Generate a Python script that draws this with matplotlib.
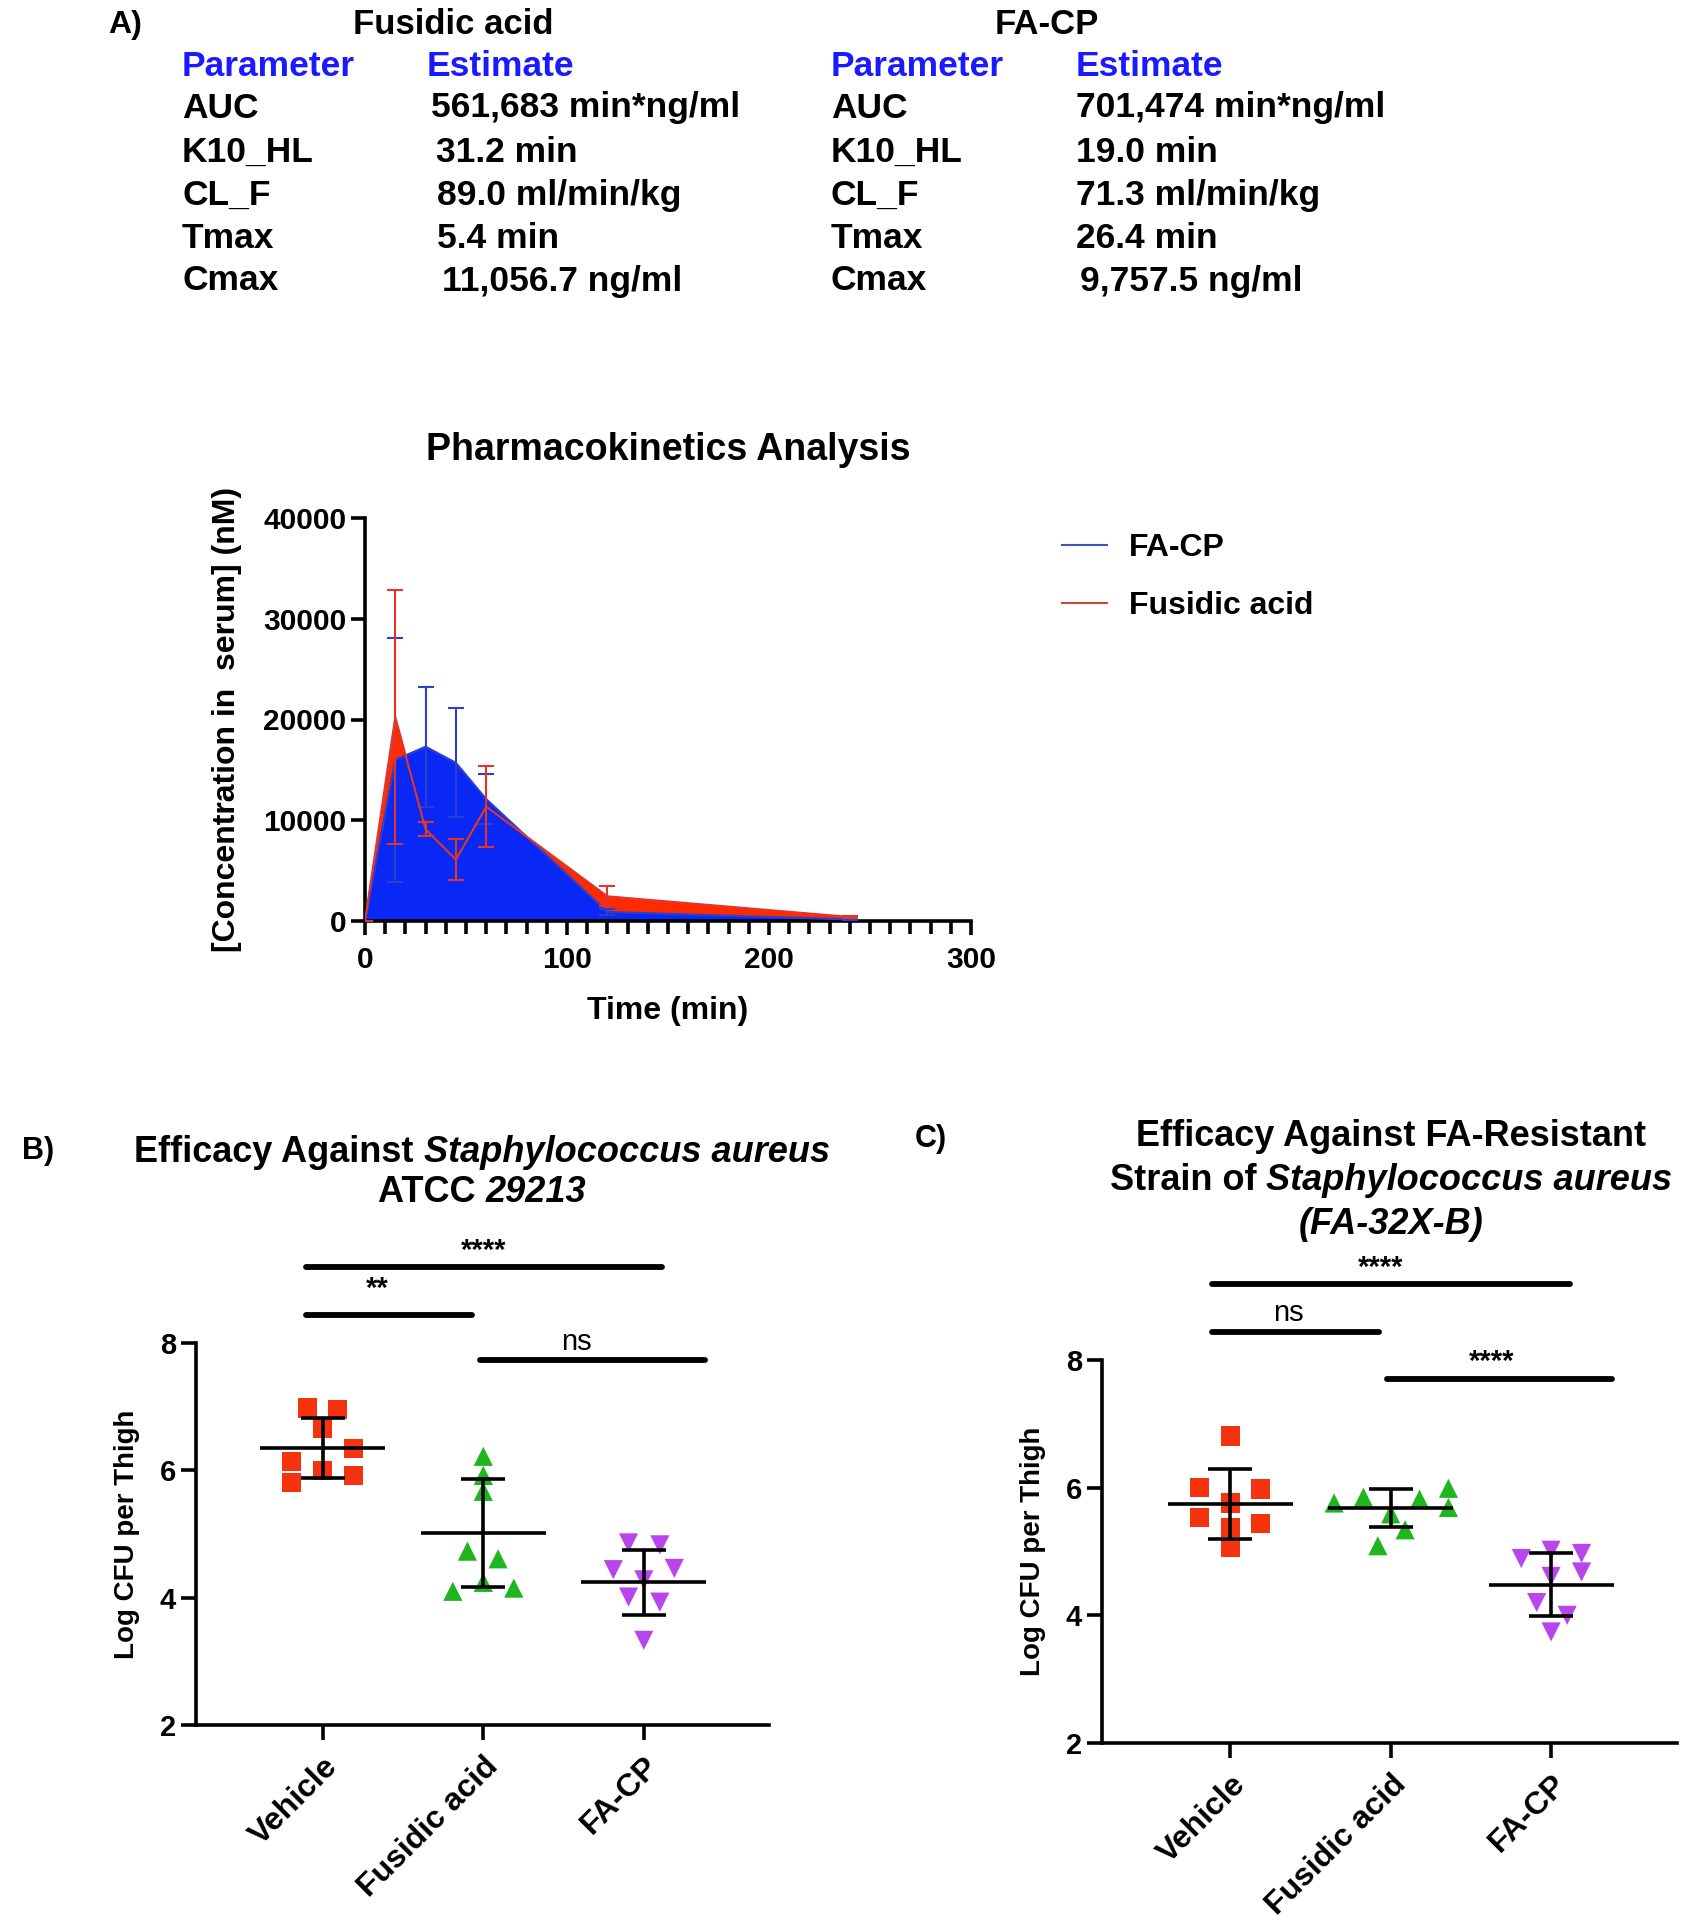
import numpy as np
import matplotlib
matplotlib.use("Agg")
import matplotlib.pyplot as plt
from matplotlib.lines import Line2D

plt.rcParams['font.family'] = ['Liberation Sans', 'DejaVu Sans']
plt.rcParams['font.weight'] = 'bold'
plt.rcParams['axes.titleweight'] = 'bold'
plt.rcParams['axes.labelweight'] = 'bold'

# ---- table values (panel A) ----
params = ["AUC", "K10_HL", "CL_F", "Tmax", "Cmax"]
fa_estimates = ["561,683 min*ng/ml", "31.2 min", "89.0 ml/min/kg", "5.4 min", "11,056.7 ng/ml"]
facp_estimates = ["701,474 min*ng/ml", "19.0 min", "71.3 ml/min/kg", "26.4 min", "9,757.5 ng/ml"]

# ---- PK curves ----
time_min = [0, 15, 30, 45, 60, 120, 240]
facp_conc = [0, 16000, 17300, 15700, 12100, 900, 150]
facp_sd = [0, 12100, 5950, 5400, 2450, 300, 50]
fa_conc = [0, 20250, 9100, 6100, 11350, 2450, 400]
fa_sd = [0, 12650, 700, 2050, 4000, 1000, 100]

# ---- thigh CFU (panel B) ----
groups = ["Vehicle", "Fusidic acid", "FA-CP"]
b_jitter = [[-0.094, 0.094, 0.0, 0.193, -0.193, 0.0, 0.193, -0.193],
            [0.0, 0.0, 0.0, -0.099, 0.092, 0.0, -0.19, 0.19],
            [-0.095, 0.1, -0.19, 0.19, 0.0, -0.095, 0.1, 0.0]]
b_values = [[6.98, 6.95, 6.66, 6.34, 6.14, 6.00, 5.92, 5.81],
            [6.22, 5.92, 5.67, 4.73, 4.61, 4.24, 4.10, 4.15],
            [4.86, 4.83, 4.44, 4.46, 4.28, 4.01, 3.93, 3.33]]
b_mean = [6.35, 5.01, 4.24]
b_sd = [0.47, 0.85, 0.51]

# ---- thigh CFU (panel C) ----
c_jitter = [[0.0, -0.19, 0.19, 0.0, -0.19, 0.19, 0.0, 0.0],
            [-0.353, -0.17, 0.18, 0.36, 0.36, 0.0, 0.09, -0.08],
            [-0.186, 0.0, 0.19, 0.19, 0.0, -0.09, 0.1, 0.0]]
c_values = [[6.81, 6.00, 5.98, 5.76, 5.53, 5.44, 5.375, 5.06],
            [5.76, 5.85, 5.82, 5.99, 5.69, 5.59, 5.34, 5.09],
            [4.89, 5.02, 4.97, 4.68, 4.61, 4.20, 4.00, 3.74]]
c_mean = [5.75, 5.68, 4.48]
c_sd = [0.55, 0.30, 0.49]

colors = ['#f5330f', '#1fb51f', '#b946ec']
markers = ['s', '^', 'v']

W, H = 1687, 1920
fig = plt.figure(figsize=(W / 100, H / 100), dpi=100)
renderer = fig.canvas.get_renderer()


def px_axes(left, top, right, bottom):
    return fig.add_axes([left / W, 1 - bottom / H, (right - left) / W, (bottom - top) / H])


def ftext(x, y, s, **kw):
    kw.setdefault('va', 'center')
    return fig.text(x / W, 1 - y / H, s, **kw)


def mixed_line(xc, y, pieces, fontsize):
    # pieces: list of (text, style); centred on xc (pixels)
    arts, widths = [], []
    for s, st in pieces:
        t = ftext(0, y, s, fontsize=fontsize, fontstyle=st)
        widths.append(t.get_window_extent(renderer).width)
        arts.append(t)
    x = xc - sum(widths) / 2
    for t, w in zip(arts, widths):
        t.set_x(x / W)
        x += w


# ===== Panel A: table =====
ftext(108, 25, "A)", fontsize=23)
ftext(453, 25, "Fusidic acid", fontsize=25, ha='center')
ftext(1047, 25, "FA-CP", fontsize=25, ha='center')
row_y = [108, 152, 195, 238, 281]
fa_x = [431, 436, 437, 437, 442]
facp_x = [1076, 1076, 1076, 1076, 1080]
for xp, xe, est, xs in [(182, 427, fa_estimates, fa_x), (831, 1076, facp_estimates, facp_x)]:
    ftext(xp, 67, "Parameter", fontsize=25.5, color='#1a1aff')
    ftext(xe, 67, "Estimate", fontsize=25.5, color='#1a1aff')
    for yy, p, e, xv in zip(row_y, params, est, xs):
        ftext(xp, yy, p, fontsize=25.5)
        ftext(xv, yy, e, fontsize=25.5)

# ===== PK plot =====
ax = px_axes(365, 518, 971, 921)
ax.fill_between(time_min, fa_conc, color='#ff2a00', lw=0, zorder=1)
ax.fill_between(time_min, facp_conc, color='#0a28f5', lw=0, zorder=2)
ax.errorbar(time_min, facp_conc, yerr=facp_sd, color='#2a3fd0', lw=1.5,
            capsize=6, capthick=1.5, zorder=3)
ax.errorbar(time_min, fa_conc, yerr=fa_sd, color='#e0352a', lw=1.5,
            capsize=6, capthick=1.5, zorder=4)
ax.set_xlim(0, 300)
ax.set_ylim(0, 40000)
ax.set_xticks([0, 100, 200, 300])
ax.set_xticks(np.arange(0, 301, 10), minor=True)
ax.set_yticks([0, 10000, 20000, 30000, 40000])
for s in ['top', 'right']:
    ax.spines[s].set_visible(False)
for s in ['left', 'bottom']:
    ax.spines[s].set_linewidth(2.6)
ax.tick_params(which='major', length=10, width=2.6, labelsize=21.5)
ax.tick_params(axis='x', pad=8)
ax.tick_params(which='minor', length=9, width=2.6)
ax.set_xlabel("Time (min)", fontsize=23, labelpad=16)
ax.set_ylabel("[Concentration in  serum] (nM)", fontsize=23, labelpad=15)
ax.set_title("Pharmacokinetics Analysis", fontsize=27, pad=42)
handles = [Line2D([], [], color='#4457b0', lw=1.5), Line2D([], [], color='#c44a3e', lw=1.5)]
ax.legend(handles, ["FA-CP", "Fusidic acid"], loc='upper left',
          bbox_to_anchor=(1062 / W, 1 - 533 / H), bbox_transform=fig.transFigure,
          frameon=False, fontsize=23, handlelength=1.4, handletextpad=0.7,
          labelspacing=0.88, borderpad=0, borderaxespad=0)


# ===== Scatter panels =====
def cfu_panel(rect, jit, vals, means, sds, bars):
    a = px_axes(*rect)
    for i in range(3):
        x = np.array(jit[i]) + i
        a.scatter(x, vals[i], marker=markers[i], s=190, color=colors[i],
                  edgecolors='none', zorder=2)
        a.plot([i - 0.39, i + 0.39], [means[i], means[i]], color='k', lw=2.6,
               solid_capstyle='butt', zorder=3)
        a.errorbar(i, means[i], yerr=sds[i], color='k', lw=2.6, capsize=16,
                   capthick=2.6, zorder=3)
    for x0, x1, y, lab, tx, ty, fs, fw in bars:
        a.plot([x0, x1], [y, y], color='k', lw=4.2, solid_capstyle='round',
               clip_on=False)
        a.text(tx, ty, lab, ha='center', va='center', fontsize=fs,
               fontweight=fw, clip_on=False)
    a.set_ylim(2, 8)
    a.set_yticks([2, 4, 6, 8])
    a.set_xticks([0, 1, 2])
    a.set_xticklabels(groups, rotation=45, ha='right', rotation_mode='anchor')
    for s in ['top', 'right']:
        a.spines[s].set_visible(False)
    for s in ['left', 'bottom']:
        a.spines[s].set_linewidth(2.6)
    a.tick_params(length=11, width=2.6, labelsize=21)
    a.tick_params(axis='x', labelsize=23, pad=8)
    a.set_ylabel("Log CFU per Thigh", fontsize=20, labelpad=14)
    return a


bars_b = [(-0.107, 2.115, 9.19, "****", 1.0, 9.45, 21, 'bold'),
          (-0.107, 0.93, 8.44, "**", 0.34, 8.85, 21, 'bold'),
          (0.977, 2.38, 7.73, "ns", 1.58, 8.02, 21, 'normal')]
axb = cfu_panel((196, 1343, 769, 1725), b_jitter, b_values, b_mean, b_sd, bars_b)
axb.set_xlim(-0.79, 2.78)

bars_c = [(-0.115, 2.12, 9.19, "****", 0.94, 9.45, 21, 'bold'),
          (-0.115, 0.93, 8.44, "ns", 0.36, 8.74, 21, 'normal'),
          (0.977, 2.38, 7.71, "****", 1.63, 7.97, 21, 'bold')]
axc = cfu_panel((1102, 1360, 1677, 1743), c_jitter, c_values, c_mean, c_sd, bars_c)
axc.set_xlim(-0.80, 2.785)

ftext(22, 1151, "B)", fontsize=22)
mixed_line(482, 1152, [("Efficacy Against ", 'normal'), ("Staphylococcus aureus", 'italic')], 26)
mixed_line(482, 1192, [("ATCC ", 'normal'), ("29213", 'italic')], 26)
ftext(915, 1139, "C)", fontsize=22)
mixed_line(1391, 1136, [("Efficacy Against FA-Resistant", 'normal')], 26)
mixed_line(1391, 1180, [("Strain of ", 'normal'), ("Staphylococcus aureus", 'italic')], 26)
mixed_line(1391, 1224, [("(FA-32X-B)", 'italic')], 26)

fig.savefig("out.png", dpi=100)
